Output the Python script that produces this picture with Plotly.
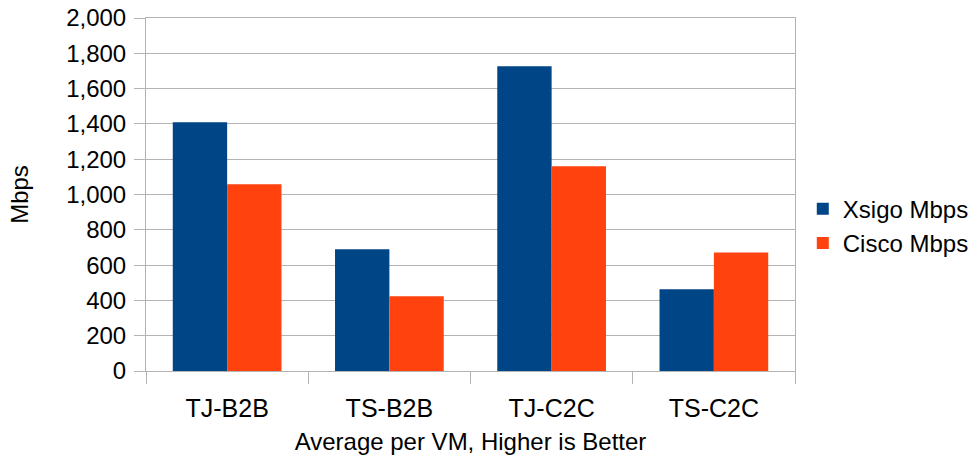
import plotly.graph_objects as go

categories = ["TJ-B2B", "TS-B2B", "TJ-C2C", "TS-C2C"]
xsigo_mbps = [1409, 690, 1726, 463]
cisco_mbps = [1058, 423, 1160, 672]
y_tickvals = [0, 200, 400, 600, 800, 1000, 1200, 1400, 1600, 1800, 2000]
y_ticktext = ["0", "200", "400", "600", "800", "1,000", "1,200", "1,400", "1,600", "1,800", "2,000"]

FONT = "Liberation Sans, Arial, sans-serif"
GRID = "#b3b3b3"

fig = go.Figure()
fig.add_trace(go.Bar(x=categories, y=xsigo_mbps, name="Xsigo Mbps",
                     marker=dict(color="#004586", line=dict(width=0))))
fig.add_trace(go.Bar(x=categories, y=cisco_mbps, name="Cisco Mbps",
                     marker=dict(color="#ff420e", line=dict(width=0))))

fig.update_layout(
    width=976, height=461,
    margin=dict(l=146, r=181, t=18, b=90, autoexpand=False),
    paper_bgcolor="white", plot_bgcolor="white",
    font=dict(family=FONT, size=24, color="black"),
    barmode="group", bargap=0.33, bargroupgap=0,
    showlegend=True,
    legend=dict(x=1.012, y=0.41, xanchor="left", yanchor="middle",
                font=dict(family=FONT, size=24, color="black"),
                bgcolor="rgba(0,0,0,0)", itemsizing="constant",
                tracegroupgap=0),
    xaxis=dict(
        automargin=False,
        showgrid=False, showline=True, linecolor=GRID, linewidth=1, mirror=True,
        ticks="outside", tickson="boundaries", ticklen=12, tickcolor=GRID,
        tickfont=dict(family=FONT, size=25, color="black"),
        ticklabelstandoff=15, ticklabeloverflow="allow",
        title=dict(text="Average per VM, Higher is Better",
                   font=dict(family=FONT, size=24, color="black"), standoff=12),
    ),
    yaxis=dict(
        automargin=False,
        range=[0, 2000], tickvals=y_tickvals, ticktext=y_ticktext,
        showgrid=True, gridcolor=GRID, gridwidth=1,
        showline=True, linecolor=GRID, linewidth=1, mirror=True,
        ticks="outside", ticklen=11, tickcolor=GRID,
        tickfont=dict(family=FONT, size=24, color="black"),
        ticklabelstandoff=3, ticklabeloverflow="allow",
        zeroline=False,
        title=dict(text="Mbps", font=dict(family=FONT, size=24, color="black"), standoff=30),
    ),
)

# remove the browser's default 8px body margin so the figure fills the window exactly
fig.write_html("out.html", config={"displayModeBar": False},
               post_script="document.body.style.margin='0';")
